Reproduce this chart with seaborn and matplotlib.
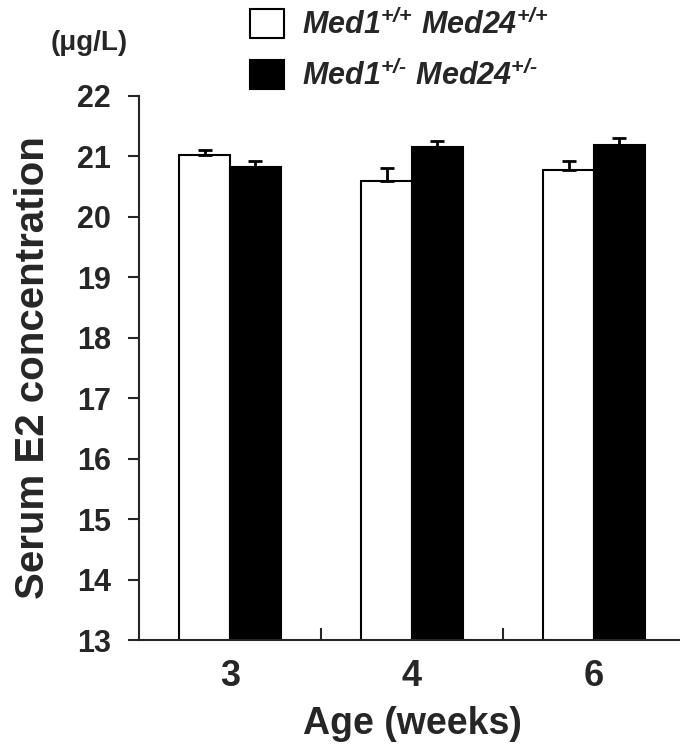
import matplotlib
matplotlib.use("Agg")
import matplotlib.pyplot as plt
from matplotlib.patches import Patch
from matplotlib.ticker import FixedLocator
import numpy as np
import pandas as pd
import seaborn as sns

# data
ages = ["3", "4", "6"]
genotypes = ["wt", "het"]
wt_mean = [21.03, 20.59, 20.77]
wt_sem = [0.08, 0.22, 0.15]
het_mean = [20.82, 21.16, 21.19]
het_sem = [0.10, 0.09, 0.11]
legend_labels = [r"$Med1^{\text{+/+}}\ Med24^{\text{+/+}}$",
                 r"$Med1^{\text{+/-}}\ Med24^{\text{+/-}}$"]

sns.set_style("ticks")
plt.rcParams["font.family"] = ["Liberation Sans", "DejaVu Sans"]
plt.rcParams["font.weight"] = "bold"
plt.rcParams["mathtext.fontset"] = "custom"
plt.rcParams["mathtext.it"] = "Liberation Sans:italic:bold"
plt.rcParams["mathtext.rm"] = "Liberation Sans:italic:bold"
plt.rcParams["mathtext.sf"] = "Liberation Sans:italic:bold"
plt.rcParams["mathtext.bf"] = "Liberation Sans:italic:bold"
plt.rcParams["mathtext.default"] = "it"

df = pd.DataFrame({
    "age": ages * 2,
    "genotype": [genotypes[0]] * 3 + [genotypes[1]] * 3,
    "value": wt_mean + het_mean,
})

fig = plt.figure(figsize=(6.8, 7.46), dpi=100)
ax = fig.add_axes([139 / 680, 106 / 746, 546 / 680, 544 / 746])

sns.barplot(data=df, x="age", y="value", hue="genotype", hue_order=genotypes,
            palette=["white", "black"], edgecolor="black", linewidth=1.5,
            width=0.56, errorbar=None, legend=False, ax=ax)

for cont, sems in zip(ax.containers, [wt_sem, het_sem]):
    xs = [b.get_x() + b.get_width() / 2 for b in cont]
    hs = [b.get_height() for b in cont]
    ax.errorbar(xs, hs, yerr=[[0] * len(sems), sems], fmt="none", ecolor="black",
                elinewidth=2, capsize=5, capthick=2, zorder=1)

ax.set_ylim(13, 22)
ax.set_xlim(-0.5, 2.5)
ax.set_yticks(range(13, 23))
ax.tick_params(axis="y", labelsize=22, length=8, width=1.5, direction="out", pad=12)
ax.tick_params(axis="x", which="major", labelsize=26, length=0, pad=14)
ax.xaxis.set_minor_locator(FixedLocator([0.5, 1.5]))
ax.tick_params(axis="x", which="minor", direction="in", length=9, width=1.5)
for s in ["left", "bottom"]:
    ax.spines[s].set_linewidth(1.5)
sns.despine(ax=ax)

ax.set_xlabel("Age (weeks)", fontsize=27, fontweight="bold", labelpad=8)
ax.set_ylabel("Serum E2 concentration", fontsize=29, fontweight="bold", labelpad=18)

fig.text(89 / 680, 1 - 43 / 746, "(μg/L)", fontsize=20, fontweight="bold",
         ha="center", va="center")

handles = [Patch(facecolor="white", edgecolor="black", linewidth=1.5),
           Patch(facecolor="black", edgecolor="black", linewidth=1.5)]
fig.legend(handles, legend_labels, loc="upper left",
           bbox_to_anchor=(250 / 680, 1 - 9 / 746), frameon=False,
           fontsize=22, handlelength=1.1, handleheight=1.1,
           handletextpad=0.6, labelspacing=0.62, borderpad=0, borderaxespad=0)

fig.savefig("out.png", dpi=100)
